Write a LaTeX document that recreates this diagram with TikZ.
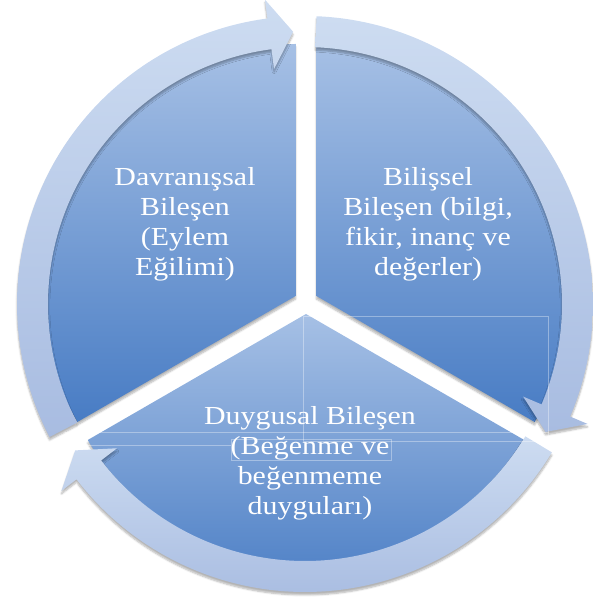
\documentclass[tikz,border=0pt]{standalone}
\usepackage{fontspec}
\setmainfont{Liberation Serif}[FakeStretch=1.15]
\usetikzlibrary{calc,shadows,shadows.blur}

\definecolor{segtop}{RGB}{166,192,229}
\definecolor{segbot}{RGB}{72,124,196}
\definecolor{arrtop}{RGB}{205,220,241}
\definecolor{arrbot}{RGB}{168,188,225}

\begin{document}
\begin{tikzpicture}[x=1pt,y=1pt,
  segment/.style={top color=segtop, bottom color=segbot, draw=none,
    blur shadow={shadow xshift=0pt, shadow yshift=-3pt, shadow blur steps=6, shadow opacity=30}},
  cyclearrow/.style={top color=arrtop, bottom color=arrbot, draw=none,
    blur shadow={shadow xshift=0pt, shadow yshift=-3pt, shadow blur steps=6, shadow opacity=30}},
  label/.style={text=white, align=center, inner sep=0pt,
    font=\fontsize{26}{30}\selectfont},
  guide/.style={draw=white, opacity=0.35, line width=0.6pt}]
\useasboundingbox (0,0) rectangle (593,605);
\coordinate (c) at (306,303);
\coordinate (ac) at (305,301);

% three pie segments, each pushed out from the centre along its bisector
\foreach \a/\n in {150/tl, 30/tr, 270/bt}{
  \coordinate (\n) at ($(c)+(\a:12)$);
  \path[segment] (\n) -- ++(\a-60:252)
    arc[start angle=\a-60, end angle=\a+60, radius=252] -- cycle;
}

% curved arrows running clockwise round the outside
\foreach \t/\p/\n in {207.5/92.5/a1, 87.7/-28/a2, -31/-147.5/a3}{
  \pgfmathsetmacro{\h}{\p+5}
  \coordinate (\n tip) at ($(ac)+(\p:272.5)$);
  \path[cyclearrow] ($(ac)+(\t:257)$)
    arc[start angle=\t, end angle=\h, radius=257]
    -- ($(ac)+(\h:237)$) -- (\n tip) -- ($(ac)+(\h:307)$)
    -- ($(ac)+(\h:288)$)
    arc[start angle=\h, end angle=\t, radius=288] -- cycle;
}

% faint text-frame lines
\draw[guide] (303,289) rectangle (548,164);
\draw[guide] (64,173) -- (549,173);
\draw[guide] (64,160) -- (231,160);
\draw[guide] (231,166) rectangle (391,145);

% labels
\node[label] (davranis) at (185,381) {Davranışsal\\Bileşen\\(Eylem\\Eğilimi)};
\node[label] (bilissel) at (428,381) {Bilişsel\\Bileşen (bilgi,\\fikir, inanç ve\\değerler)};
\node[label] (duygusal) at (310,142) {Duygusal Bileşen\\(Beğenme ve\\beğenmeme\\duyguları)};
\end{tikzpicture}
\end{document}
